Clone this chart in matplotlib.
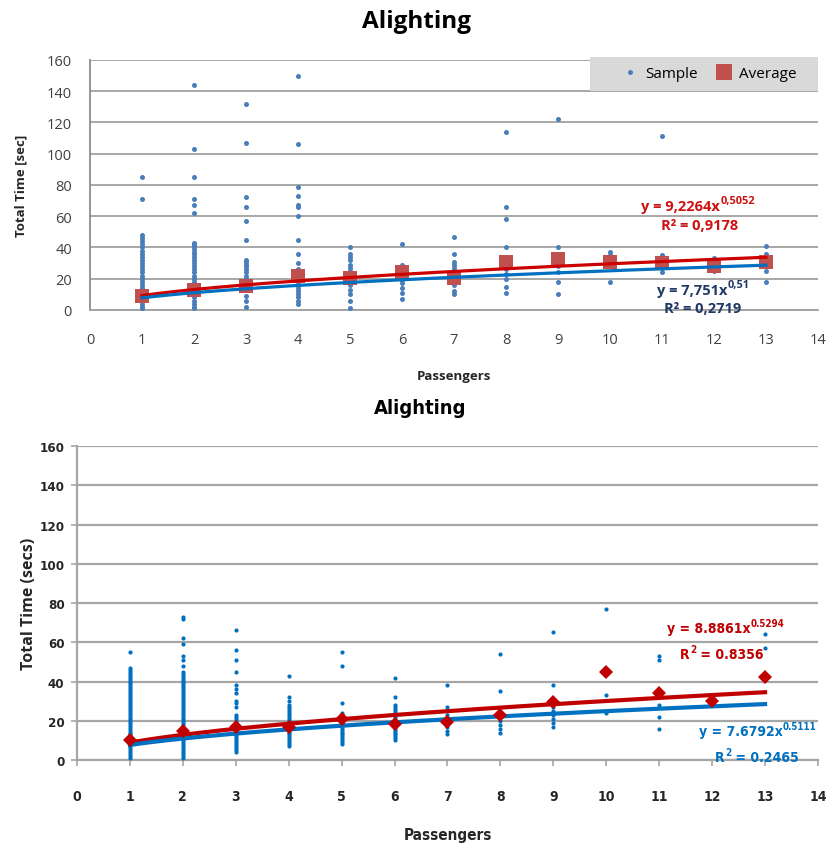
import matplotlib
matplotlib.use("Agg")
import matplotlib.pyplot as plt
import numpy as np
from matplotlib.lines import Line2D
from matplotlib.patches import Rectangle

# ---------------- data ----------------
passengers = list(range(1, 14))

# upper chart: individual samples per passenger count
top_samples = [
    [85, 71, 48, 46, 44, 42, 40, 38, 36, 34, 32, 30, 28, 26, 24, 22, 20, 18, 16, 14, 12, 10, 8, 6, 4, 2, 1],
    [144, 103, 85, 71, 67, 62, 43, 42, 41, 39, 37, 36, 34, 32, 30, 28, 26, 24, 22, 20, 18, 16, 14, 12, 10, 8, 6, 4, 2, 1],
    [132, 107, 72, 66, 57, 45, 32, 31, 29, 28, 26, 24, 22, 20, 18, 16, 13, 9, 6, 2],
    [150, 106, 79, 73, 67, 66, 60, 45, 36, 30, 26, 24, 22, 20, 18, 16, 14, 12, 10, 8, 6, 4],
    [40, 36, 34, 32, 29, 27, 25, 22, 19, 16, 13, 10, 6, 1],
    [42, 29, 26, 24, 22, 19, 17, 14, 11, 7],
    [47, 36, 31, 29, 27, 24, 20, 16, 12, 10],
    [114, 66, 58, 40, 28, 26, 23, 20, 15, 11],
    [122, 40, 28, 24, 18, 10],
    [37, 35, 32, 30, 28, 18],
    [111, 35, 32, 29, 27, 24],
    [33, 31, 28, 25],
    [41, 36, 33, 29, 25, 18],
]
top_average = [9.2, 13.0, 15.6, 22.0, 20.3, 24.5, 20.3, 30.5, 32.5, 30.5, 30.0, 28.4, 30.5]
top_avg_fit = (9.2264, 0.5052, 0.9178)
top_smp_fit = (7.751, 0.51, 0.2719)

# lower chart: individual samples per passenger count
bot_samples = [
    [55, 47, 46, 45, 44, 43, 42, 41, 40, 39, 38, 37, 36, 35, 34, 33, 32, 31, 30, 29, 28, 27, 26, 25, 24,
     23, 22, 21, 20, 19, 18, 17, 16, 15, 14, 13, 12, 11, 10, 9, 8, 7, 6, 5, 4, 3, 2, 1],
    [73, 72, 62, 59, 53, 51, 48, 45, 44, 43, 42, 41, 40, 39, 38, 37, 36, 35, 34, 33, 32, 31, 30, 29, 28,
     27, 26, 25, 24, 23, 22, 21, 20, 19, 18, 17, 16, 15, 14, 13, 12, 11, 10, 9, 8, 7, 6, 5, 4, 3, 2, 1],
    [66, 56, 51, 45, 38, 36, 34, 30, 29, 27, 23, 22, 21, 20, 19, 18, 17, 16, 15, 14, 13, 12, 11, 10, 9,
     8, 7, 6, 5, 4],
    [43, 32, 30, 28, 27, 26, 25, 24, 23, 22, 21, 20, 19, 18, 17, 16, 15, 14, 13, 12, 11, 10, 9, 8, 7],
    [55, 48, 29, 24, 23, 22, 21, 20, 19, 18, 17, 16, 15, 14, 13, 12, 11, 10, 9, 8],
    [42, 32, 28, 27, 26, 25, 24, 23, 22, 21, 20, 19, 18, 17, 16, 15, 14, 13, 12, 11, 10],
    [38, 27, 25, 23, 21, 19, 17, 15, 13],
    [54, 35, 24, 22, 20, 18, 16, 14],
    [65, 38, 27, 25, 23, 21, 19, 17],
    [77, 33, 24],
    [53, 51, 28, 22, 16],
    [31, 29],
    [64, 57, 41],
]
bot_average = [10.2, 14.6, 16.6, 17.0, 20.9, 18.3, 19.2, 22.9, 29.7, 44.7, 34.1, 30.2, 42.1]
bot_avg_fit = (8.8861, 0.5294, 0.8356)
bot_smp_fit = (7.6792, 0.5111, 0.2465)

x_ticks = list(range(0, 15))
y_ticks = list(range(0, 161, 20))

# ---------------- figure ----------------
W, H = 829, 845
fig = plt.figure(figsize=(W / 100, H / 100), dpi=100)
wide = dict(family=["Open Sans", "DejaVu Sans"])
narrow = dict(family="DejaVu Sans", stretch="condensed")

fit_x = np.linspace(1, 13, 200)


def comma(v, nd):
    return f"{v:.{nd}f}".replace(".", ",")


def rich_label(ax, x, y, pieces, color, size, font, sup_scale=0.7):
    """Write text pieces left to right from (x, y); pieces flagged True are superscripts."""
    base = ax.text(x, y, pieces[0][0], color=color, fontsize=size, fontweight="bold",
                   ha="left", va="center", **font)
    prev = base
    for txt, sup in pieces[1:]:
        if sup:
            prev = ax.annotate(txt, xy=(1.0, 0.5), xycoords=prev, xytext=(0.3, 0),
                               textcoords="offset points", color=color,
                               fontsize=size * sup_scale, fontweight="bold",
                               ha="left", va="bottom", **font)
        else:
            prev = ax.annotate(txt, xy=(1.0, 0.0), xycoords=(prev, base), color=color,
                               fontsize=size, fontweight="bold", ha="left", va="bottom", **font)
    return base


# ---------- upper chart ----------
ax1 = fig.add_axes([0.1086, 0.6320, 0.8781, 0.2959])
for p, vals in zip(passengers, top_samples):
    ax1.plot([p] * len(vals), vals, "o", color="#4a7ebb", ms=3.6, mew=0, zorder=3)
ax1.plot(passengers, top_average, "s", color="#c0504d", ms=10, mew=0, zorder=4)
a, b, r2 = top_avg_fit
ax1.plot(fit_x, a * fit_x ** b, color="#cc0000", lw=2.3, zorder=5)
a, b, r2 = top_smp_fit
ax1.plot(fit_x, a * fit_x ** b, color="#0070c0", lw=2.3, zorder=5)

ax1.set_xlim(0, 14)
ax1.set_ylim(0, 160)
ax1.set_xticks(x_ticks)
ax1.set_yticks(y_ticks)
ax1.yaxis.grid(True, color="#a0a0a0", lw=1.3)
ax1.set_axisbelow(True)
for s in ["top", "right"]:
    ax1.spines[s].set_visible(False)
ax1.spines["left"].set_color("#8c8c8c")
ax1.spines["left"].set_linewidth(1.3)
ax1.spines["bottom"].set_color("#a0a0a0")
ax1.spines["bottom"].set_linewidth(1.3)
ax1.tick_params(axis="both", length=0, labelsize=10.5, colors="#404040")
ax1.tick_params(axis="x", pad=16)
ax1.tick_params(axis="y", pad=13)
for lab in ax1.get_xticklabels() + ax1.get_yticklabels():
    lab.set_fontfamily(wide["family"])
ax1.set_xlabel("Passengers", fontsize=9.5, fontweight="bold", color="#262626",
               labelpad=16, **wide)
ax1.set_ylabel("Total Time [sec]", fontsize=9.5, fontweight="bold", color="#262626",
               labelpad=14, **wide)
fig.text(417 / W, 1 - 22 / H, "Alighting", fontsize=17.5, fontweight="bold",
         ha="center", va="center", **wide)

a, b, r2 = top_avg_fit
rich_label(ax1, 10.6, 66.6, [(f"y = {comma(a, 4)}x", False), (comma(b, 4), True)],
           "#cc1111", 10.5, wide, 0.75)
ax1.text(10.98, 54.4, f"R² = {comma(r2, 4)}", color="#cc1111", fontsize=10.5,
         fontweight="bold", ha="left", va="center", **wide)
a, b, r2 = top_smp_fit
rich_label(ax1, 10.9, 12.8, [(f"y = {comma(a, 3)}x", False), (comma(b, 2), True)],
           "#1f3864", 10.5, wide, 0.75)
ax1.text(11.04, 1.3, f"R² = {comma(r2, 4)}", color="#1f3864", fontsize=10.5,
         fontweight="bold", ha="left", va="center", **wide)

# legend panel
fig.patches.append(Rectangle((590 / W, 1 - 92 / H), 228 / W, 34 / H, transform=fig.transFigure,
                             facecolor="#d9d9d9", edgecolor="none", zorder=5))
handles = [Line2D([], [], marker="o", ls="", color="#4a7ebb", ms=3.6, mew=0),
           Line2D([], [], marker="s", ls="", color="#c0504d", ms=11, mew=0)]
leg = fig.legend(handles, ["Sample", "Average"], ncol=2, loc="center",
                 bbox_to_anchor=(707 / W, 1 - 75 / H), frameon=False,
                 prop={"family": wide["family"], "size": 11}, handletextpad=0.2,
                 columnspacing=0.9, handlelength=1.6, borderpad=0.0)
leg.set_zorder(6)

# ---------- lower chart ----------
ax2 = fig.add_axes([0.0929, 0.0994, 0.8938, 0.3716])
for p, vals in zip(passengers, bot_samples):
    ax2.plot([p] * len(vals), vals, "o", color="#0070c0", ms=3.0, mew=0, zorder=3)
a, b, r2 = bot_avg_fit
ax2.plot(fit_x, a * fit_x ** b, color="#c00000", lw=3.0, zorder=4)
a, b, r2 = bot_smp_fit
ax2.plot(fit_x, a * fit_x ** b, color="#0070c0", lw=3.0, zorder=4)
ax2.plot(passengers, bot_average, "D", color="#c00000", ms=7.5, mew=0, zorder=5)

ax2.set_xlim(0, 14)
ax2.set_ylim(0, 160)
ax2.set_xticks(x_ticks)
ax2.set_yticks(y_ticks)
ax2.yaxis.grid(True, color="#a6a6a6", lw=1.6)
ax2.set_axisbelow(True)
for s in ["top", "right"]:
    ax2.spines[s].set_visible(False)
for s in ["left", "bottom"]:
    ax2.spines[s].set_color("#a6a6a6")
    ax2.spines[s].set_linewidth(1.6)
ax2.tick_params(axis="both", length=4, width=1.2, color="#a6a6a6", colors="#262626")
ax2.tick_params(axis="x", labelsize=10, pad=17)
ax2.tick_params(axis="y", labelsize=9.5, pad=5)
for lab in ax2.get_xticklabels() + ax2.get_yticklabels():
    lab.set_fontfamily("DejaVu Sans")
    lab.set_fontstretch("condensed")
    lab.set_fontweight("bold")
ax2.set_xlabel("Passengers", fontsize=11, fontweight="bold", color="#262626",
               labelpad=17, **narrow)
ax2.set_ylabel("Total Time (secs)", fontsize=11.5, fontweight="bold", color="#262626",
               labelpad=2, **wide)
fig.text(420 / W, 1 - 409 / H, "Alighting", fontsize=14.5, fontweight="bold",
         ha="center", va="center", **narrow)

a, b, r2 = bot_avg_fit
rich_label(ax2, 11.15, 67.3, [(f"y = {a:.4f}x", False), (f"{b:.4f}", True)],
           "#c00000", 10, narrow)
rich_label(ax2, 11.4, 54, [("R", False), ("2", True), (f" = {r2:.4f}", False)],
           "#c00000", 10, narrow)
a, b, r2 = bot_smp_fit
rich_label(ax2, 11.75, 14.8, [(f"y = {a:.4f}x", False), (f"{b:.4f}", True)],
           "#0070c0", 10, narrow)
rich_label(ax2, 12.06, 1.5, [("R", False), ("2", True), (f" = {r2:.4f}", False)],
           "#0070c0", 10, narrow)

fig.savefig("out.png", dpi=100)
